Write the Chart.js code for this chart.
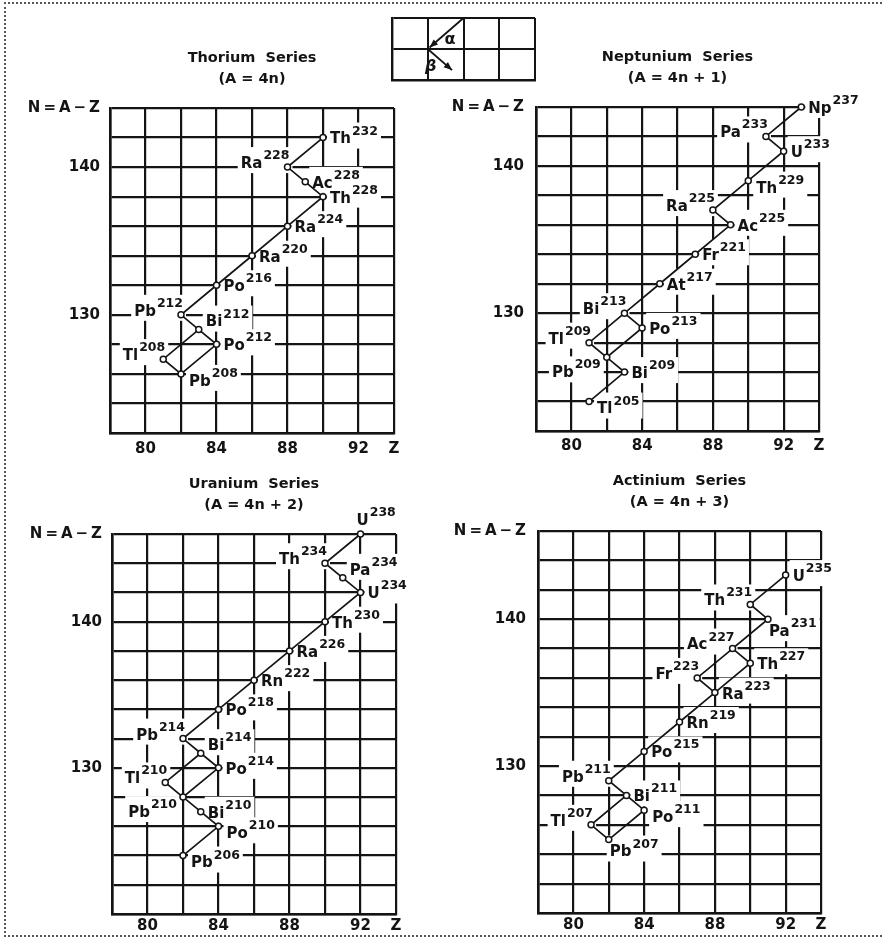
<!DOCTYPE html>
<html>
<head>
<meta charset="utf-8">
<title>Radioactive decay series</title>
<script src="https://cdn.jsdelivr.net/npm/chart.js@4.4.1/dist/chart.umd.min.js"></script>
<style>
  body { margin: 0; background: #fff; }
  #page { position: relative; width: 882px; height: 939px; overflow: hidden; background: #fff; }
  #frame { position: absolute; left: 4px; top: 2px; width: 900px; height: 931px; border: 2px dotted #555; border-right: none; }
  canvas { position: absolute; }
</style>
</head>
<body>
<div id="page">
  <div id="frame"></div>
  <canvas id="thorium" width="441" height="470" style="left:0;top:0"></canvas>
  <canvas id="neptunium" width="441" height="470" style="left:441px;top:0"></canvas>
  <canvas id="uranium" width="441" height="469" style="left:0;top:470px"></canvas>
  <canvas id="actinium" width="441" height="469" style="left:441px;top:470px"></canvas>
  <canvas id="legenda" width="170" height="85" style="left:380px;top:8px"></canvas>
</div>
<script>
// assi comuni
var zRange = [78, 94];
var zLabels = [80, 84, 88, 92];
var nLabels = [130, 140];

// serie del torio (A = 4n)
var thTitle = ['Thorium  Series', '(A = 4n)'];
var thRange = [122, 144];
var thSym  = ['Th', 'Ra', 'Ac', 'Th', 'Ra', 'Ra', 'Po', 'Pb', 'Bi', 'Po', 'Tl', 'Pb'];
var thMass = [232, 228, 228, 228, 224, 220, 216, 212, 212, 212, 208, 208];
var thZ    = [90, 88, 89, 90, 88, 86, 84, 82, 83, 84, 81, 82];
var thN    = [142, 140, 139, 138, 136, 134, 132, 130, 129, 128, 127, 126];
var thChains = [[0, 1, 2, 3, 4, 5, 6, 7, 8, 9, 11], [8, 10, 11]];

// serie del nettunio (A = 4n + 1)
var npTitle = ['Neptunium  Series', '(A = 4n + 1)'];
var npRange = [122, 144];
var npSym  = ['Np', 'Pa', 'U', 'Th', 'Ra', 'Ac', 'Fr', 'At', 'Bi', 'Po', 'Tl', 'Pb', 'Bi', 'Tl'];
var npMass = [237, 233, 233, 229, 225, 225, 221, 217, 213, 213, 209, 209, 209, 205];
var npZ    = [93, 91, 92, 90, 88, 89, 87, 85, 83, 84, 81, 82, 83, 81];
var npN    = [144, 142, 141, 139, 137, 136, 134, 132, 130, 129, 128, 127, 126, 124];
var npChains = [[0, 1, 2, 3, 4, 5, 6, 7, 8, 9, 11, 12, 13], [8, 10, 11]];

// serie dell'uranio (A = 4n + 2)
var uTitle = ['Uranium  Series', '(A = 4n + 2)'];
var uRange = [120, 146];
var uSym  = ['U', 'Th', 'Pa', 'U', 'Th', 'Ra', 'Rn', 'Po', 'Pb', 'Bi', 'Po', 'Tl', 'Pb', 'Bi', 'Po', 'Pb'];
var uMass = [238, 234, 234, 234, 230, 226, 222, 218, 214, 214, 214, 210, 210, 210, 210, 206];
var uZ    = [92, 90, 91, 92, 90, 88, 86, 84, 82, 83, 84, 81, 82, 83, 84, 82];
var uN    = [146, 144, 143, 142, 140, 138, 136, 134, 132, 131, 130, 129, 128, 127, 126, 124];
var uChains = [[0, 1, 2, 3, 4, 5, 6, 7, 8, 9, 10, 12, 13, 14, 15], [9, 11, 12]];

// serie dell'attinio (A = 4n + 3)
var acTitle = ['Actinium  Series', '(A = 4n + 3)'];
var acRange = [120, 146];
var acSym  = ['U', 'Th', 'Pa', 'Ac', 'Th', 'Fr', 'Ra', 'Rn', 'Po', 'Pb', 'Bi', 'Po', 'Tl', 'Pb'];
var acMass = [235, 231, 231, 227, 227, 223, 223, 219, 215, 211, 211, 211, 207, 207];
var acZ    = [92, 90, 91, 89, 90, 87, 88, 86, 84, 82, 83, 84, 81, 82];
var acN    = [143, 141, 140, 138, 137, 136, 135, 133, 131, 129, 128, 127, 126, 125];
var acChains = [[0, 1, 2, 3, 4, 6, 7, 8, 9, 10, 11, 13], [3, 5, 6], [10, 12, 13]];

// legenda: frecce alfa e beta (celle Z x N)
var alphaArrow = [[2, 2], [1.05, 1.05]];
var betaArrow  = [[1, 1], [1.68, 0.32]];

// dove mettere le etichette rispetto al punto (solo stile)
var thSide = ['r', 'l', 'r', 'r', 'r', 'r', 'r', 'l', 'ru', 'r', 'l', 'rb'];
var npSide = ['r', 'l', 'r', 'rb', 'l', 'r', 'r', 'r', 'l', 'r', 'l', 'lb', 'r', 'rb'];
var uSide  = ['a', 'l', 'ru', 'r', 'r', 'r', 'r', 'r', 'l', 'ru', 'r', 'l', 'lb', 'r', 'rb', 'rb'];
var acSide = ['r', 'l', 'b', 'l', 'r', 'l', 'r', 'r', 'r', 'l', 'r', 'rb', 'l', 'b'];

var INK = '#141414';
var FONT = 'DejaVu Sans';
var SYM_FONT = 'bold 15px ' + FONT;
var SUP_FONT = 'bold 12.5px ' + FONT;

function placeLabel(kind, px, py, w) {
    switch (kind) {
        case 'l':  return { x: px + 2 - w, y: py - 3 };
        case 'lb': return { x: px - 6 - w, y: py + 16 };
        case 'ru': return { x: px + 7, y: py - 7 };
        case 'rb': return { x: px + 8, y: py + 8 };
        case 'a':  return { x: px - 4, y: py - 13 };
        case 'b':  return { x: px + 1, y: py + 13 };
        default:   return { x: px + 7, y: py + 2 };
    }
}

function labelPlugin(p) {
    function each(chart, fn) {
        var ctx = chart.ctx, xs = chart.scales.x, ys = chart.scales.y;
        for (var i = 0; i < p.sym.length; i++) {
            ctx.font = SYM_FONT;
            var sw = ctx.measureText(p.sym[i]).width;
            ctx.font = SUP_FONT;
            var mw = ctx.measureText(String(p.mass[i])).width;
            var pos = placeLabel(p.side[i], xs.getPixelForValue(p.z[i]), ys.getPixelForValue(p.n[i]), sw + 1 + mw);
            fn(ctx, i, pos, sw, mw);
        }
    }
    return {
        id: 'nuclidi',
        beforeDatasetsDraw: function (chart) {   // buchi bianchi nella griglia sotto le scritte
            chart.ctx.save();
            chart.ctx.fillStyle = '#fff';
            each(chart, function (ctx, i, pos, sw, mw) {
                ctx.fillRect(pos.x - 3, pos.y - 17, sw + mw + 7, 26);
            });
            chart.ctx.restore();
        },
        afterDatasetsDraw: function (chart) {
            var ctx = chart.ctx, a = chart.chartArea;
            ctx.save();
            ctx.fillStyle = INK;
            each(chart, function (ctx, i, pos, sw) {
                ctx.textAlign = 'left';
                ctx.textBaseline = 'middle';
                ctx.font = SYM_FONT;
                ctx.fillText(p.sym[i], pos.x, pos.y);
                ctx.textBaseline = 'alphabetic';
                ctx.font = SUP_FONT;
                ctx.fillText(String(p.mass[i]), pos.x + sw + 1, pos.y - 5);
            });
            // titolo
            ctx.textAlign = 'center';
            ctx.textBaseline = 'middle';
            ctx.font = 'bold 14.5px ' + FONT;
            var cx = (a.left + a.right) / 2;
            ctx.fillText(p.title[0], cx, a.top - 50);
            ctx.fillText(p.title[1], cx, a.top - 29);
            ctx.restore();
        }
    };
}

function makePanel(id, p, box) {
    var datasets = [{
        data: p.z.map(function (z, i) { return { x: z, y: p.n[i] }; }),
        pointRadius: 3,
        pointBackgroundColor: '#fff',
        pointBorderColor: INK,
        pointBorderWidth: 1.5,
        showLine: false,
        clip: false
    }];
    p.chains.forEach(function (chain) {
        datasets.push({
            data: chain.map(function (i) { return { x: p.z[i], y: p.n[i] }; }),
            showLine: true,
            borderColor: INK,
            borderWidth: 1.7,
            pointRadius: 0,
            clip: false
        });
    });

    var ctx = document.getElementById(id).getContext('2d');
    return new Chart(ctx, {
        type: 'scatter',
        data: { datasets: datasets },
        options: {
            responsive: false,
            animation: false,
            events: [],
            layout: { padding: { left: 0, top: box.top, right: box.right, bottom: box.bottom } },
            plugins: { legend: { display: false }, tooltip: { enabled: false } },
            scales: {
                x: {
                    type: 'linear',
                    min: zRange[0], max: zRange[1],
                    afterFit: function (s) { s.height = box.xh; },
                    ticks: {
                        stepSize: 2, autoSkip: false, maxRotation: 0, padding: box.xpad,
                        color: INK, font: { family: FONT, size: 15, weight: 'bold' },
                        callback: function (v) {
                            if (v === zRange[1]) return 'Z';
                            return zLabels.indexOf(v) >= 0 ? String(v) : '';
                        }
                    },
                    grid: { color: INK, lineWidth: 2.2, drawTicks: false },
                    border: { color: INK, width: 2.6 }
                },
                y: {
                    type: 'linear',
                    min: p.range[0], max: p.range[1],
                    afterFit: function (s) { s.width = box.yw; },
                    ticks: {
                        stepSize: 2, autoSkip: false, padding: box.ypad,
                        color: INK, font: { family: FONT, size: 15, weight: 'bold' },
                        callback: function (v) {
                            if (v === p.range[1]) return 'N\u2009=\u2009A\u2009\u2212\u2009Z';
                            return nLabels.indexOf(v) >= 0 ? String(v) : '';
                        }
                    },
                    grid: { color: INK, lineWidth: 2.2, drawTicks: false },
                    border: { color: INK, width: 2.6 }
                }
            }
        },
        plugins: [labelPlugin(p)]
    });
}

makePanel('thorium',
    { title: thTitle, range: thRange, sym: thSym, mass: thMass, z: thZ, n: thN, chains: thChains, side: thSide },
    { top: 108, right: 47, bottom: 7, xh: 30, yw: 110, xpad: 7, ypad: 10 });
makePanel('neptunium',
    { title: npTitle, range: npRange, sym: npSym, mass: npMass, z: npZ, n: npN, chains: npChains, side: npSide },
    { top: 107, right: 63, bottom: 9, xh: 30, yw: 95, xpad: 6, ypad: 12 });
makePanel('uranium',
    { title: uTitle, range: uRange, sym: uSym, mass: uMass, z: uZ, n: uN, chains: uChains, side: uSide },
    { top: 64, right: 45, bottom: 3, xh: 22, yw: 112, xpad: 3, ypad: 10 });
makePanel('actinium',
    { title: acTitle, range: acRange, sym: acSym, mass: acMass, z: acZ, n: acN, chains: acChains, side: acSide },
    { top: 61, right: 61, bottom: 4, xh: 22, yw: 97, xpad: 3, ypad: 12 });

// legenda con le frecce
var arrowPlugin = {
    id: 'frecce',
    afterDatasetsDraw: function (chart) {
        var ctx = chart.ctx, xs = chart.scales.x, ys = chart.scales.y;
        ctx.save();
        ctx.fillStyle = INK;
        [alphaArrow, betaArrow].forEach(function (arr) {
            var x0 = xs.getPixelForValue(arr[0][0]), y0 = ys.getPixelForValue(arr[0][1]);
            var x1 = xs.getPixelForValue(arr[1][0]), y1 = ys.getPixelForValue(arr[1][1]);
            var ang = Math.atan2(y1 - y0, x1 - x0);
            ctx.beginPath();
            ctx.moveTo(x1, y1);
            ctx.lineTo(x1 - 9 * Math.cos(ang - 0.38), y1 - 9 * Math.sin(ang - 0.38));
            ctx.lineTo(x1 - 9 * Math.cos(ang + 0.38), y1 - 9 * Math.sin(ang + 0.38));
            ctx.closePath();
            ctx.fill();
        });
        ctx.font = 'bold 16px ' + FONT;
        ctx.textAlign = 'center';
        ctx.textBaseline = 'middle';
        ctx.fillText('\u03b1', xs.getPixelForValue(1.62), ys.getPixelForValue(1.3));
        ctx.font = 'italic bold 16px ' + FONT;
        ctx.fillText('\u03b2', xs.getPixelForValue(1.08), ys.getPixelForValue(0.42));
        ctx.restore();
    }
};

new Chart(document.getElementById('legenda').getContext('2d'), {
    type: 'scatter',
    data: {
        datasets: [alphaArrow, betaArrow].map(function (arr) {
            return {
                data: arr.map(function (pt) { return { x: pt[0], y: pt[1] }; }),
                showLine: true, borderColor: INK, borderWidth: 1.8, pointRadius: 0, clip: false
            };
        })
    },
    options: {
        responsive: false,
        animation: false,
        events: [],
        layout: { padding: { left: 12, top: 10, right: 15, bottom: 13 } },
        plugins: { legend: { display: false }, tooltip: { enabled: false } },
        scales: {
            x: {
                type: 'linear', min: 0, max: 4,
                afterFit: function (s) { s.height = 0; },
                ticks: { stepSize: 1, display: false },
                grid: { color: INK, lineWidth: 2, drawTicks: false },
                border: { color: INK, width: 2.4 }
            },
            y: {
                type: 'linear', min: 0, max: 2,
                afterFit: function (s) { s.width = 0; },
                ticks: { stepSize: 1, display: false },
                grid: { color: INK, lineWidth: 2, drawTicks: false },
                border: { color: INK, width: 2.4 }
            }
        }
    },
    plugins: [arrowPlugin]
});
</script>
</body>
</html>
